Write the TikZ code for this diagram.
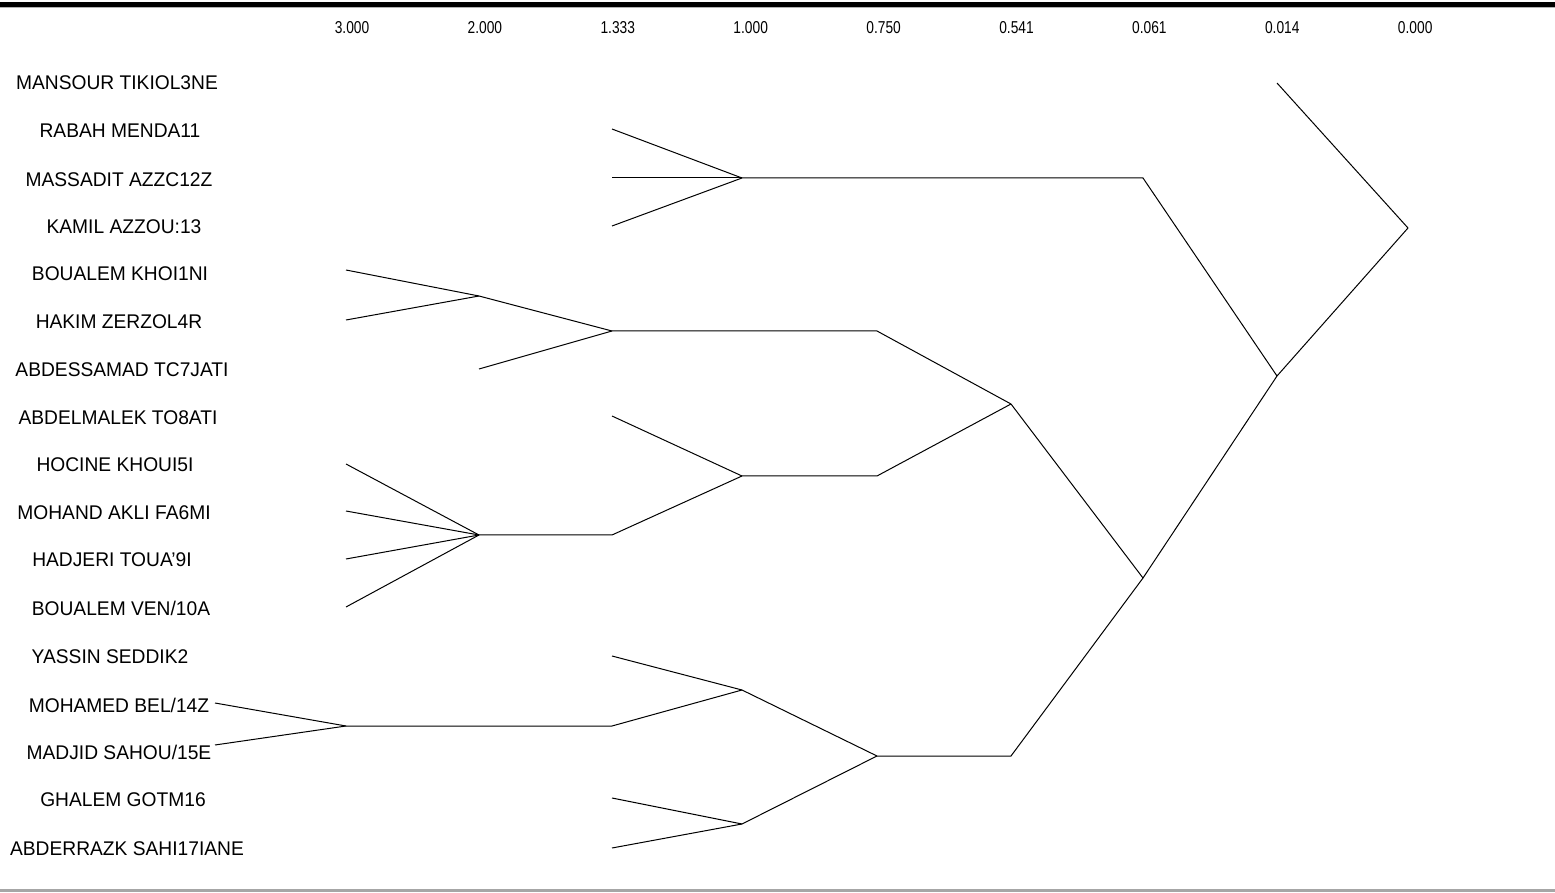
\documentclass[tikz,border=0pt]{standalone}
\usepackage{fontspec}
\setmainfont{Liberation Sans}
\begin{document}
\begin{tikzpicture}[x=0.5pt,y=-0.5pt,
  lbl/.style={font=\fontsize{9.9}{11}\selectfont, inner sep=0pt, anchor=center, xscale=0.97},
  ax/.style={font=\fontsize{8.6}{10}\selectfont, inner sep=0pt, anchor=center, xscale=0.8},
  br/.style={line width=0.5pt, black}]
\useasboundingbox (0,0) rectangle (1555,893);
% frame lines
\draw[line width=2.2pt, black] (0,4.5) -- (1555,4.5);
\draw[line width=0.6pt, gray!60] (0,7.5) -- (1555,7.5);
\draw[line width=1.4pt, gray!70] (0,890.5) -- (1555,890.5);
% axis labels
\foreach \v [count=\i from 0] in {3.000,2.000,1.333,1.000,0.750,0.541,0.061,0.014,0.000}
  \node[ax] (ax\i) at (352+132.9*\i,28) {\v};
% leaf labels
\node[lbl] (n1) at (117,83) {MANSOUR TIKIOL3NE};
\node[lbl] (n2) at (120,131) {RABAH MENDA11};
\node[lbl] (n3) at (119,180) {MASSADIT AZZC12Z};
\node[lbl] (n4) at (124,227) {KAMIL AZZOU:13};
\node[lbl] (n5) at (120,274) {BOUALEM KHOI1NI};
\node[lbl] (n6) at (119,322) {HAKIM ZERZOL4R};
\node[lbl] (n7) at (122,370) {ABDESSAMAD TC7JATI};
\node[lbl] (n8) at (118,418) {ABDELMALEK TO8ATI};
\node[lbl] (n9) at (115,465) {HOCINE KHOUI5I};
\node[lbl] (n10) at (114,513) {MOHAND AKLI FA6MI};
\node[lbl] (n11) at (112,560) {HADJERI TOUA'9I};
\node[lbl] (n12) at (121,608) {BOUALEM VEN/10A};
\node[lbl] (n13) at (110,657) {YASSIN SEDDIK2};
\node[lbl] (n14) at (119,705) {MOHAMED BEL/14Z};
\node[lbl] (n15) at (119,752) {MADJID SAHOU/15E};
\node[lbl] (n16) at (123,800) {GHALEM GOTM16};
\node[lbl] (n17) at (127,849) {ABDERRAZK SAHI17IANE};
% leaf ends
\coordinate (l1) at (1277,83);
\coordinate (l2) at (612,129);
\coordinate (l3) at (612,178);
\coordinate (l4) at (612,226);
\coordinate (l5) at (346,270);
\coordinate (l6) at (346,320);
\coordinate (l7) at (479,369);
\coordinate (l8) at (612,416);
\coordinate (l9) at (346,464);
\coordinate (l10) at (346,511);
\coordinate (l11) at (346,559);
\coordinate (l12) at (346,607);
\coordinate (l13) at (612,656);
\coordinate (l14) at (215,703);
\coordinate (l15) at (215,745);
\coordinate (l16) at (612,798);
\coordinate (l17) at (612,848);
% junctions
\coordinate (jA) at (742,178);
\coordinate (jA2) at (1143,178);
\coordinate (jB1) at (479,296);
\coordinate (jB) at (612,331);
\coordinate (jB2) at (877,331);
\coordinate (jC1) at (479,535);
\coordinate (jC1b) at (612,535);
\coordinate (jC) at (742,476);
\coordinate (jC2) at (877,476);
\coordinate (jBC) at (1011,404);
\coordinate (jD1) at (346,726);
\coordinate (jD1b) at (612,726);
\coordinate (jD2) at (742,690);
\coordinate (jD3) at (742,824);
\coordinate (jD) at (877,756);
\coordinate (jD4) at (1011,756);
\coordinate (jBCD) at (1143,578);
\coordinate (jABCD) at (1277,376);
\coordinate (root) at (1408,228);
% branches
\draw[br] (l2) -- (jA); \draw[br] (l3) -- (jA); \draw[br] (l4) -- (jA);
\draw[br] (jA) -- (jA2) -- (jABCD);
\draw[br] (l5) -- (jB1); \draw[br] (l6) -- (jB1);
\draw[br] (jB1) -- (jB); \draw[br] (l7) -- (jB);
\draw[br] (jB) -- (jB2) -- (jBC);
\draw[br] (l9) -- (jC1); \draw[br] (l10) -- (jC1); \draw[br] (l11) -- (jC1); \draw[br] (l12) -- (jC1);
\draw[br] (jC1) -- (jC1b) -- (jC);
\draw[br] (l8) -- (jC);
\draw[br] (jC) -- (jC2) -- (jBC);
\draw[br] (jBC) -- (jBCD);
\draw[br] (l14) -- (jD1); \draw[br] (l15) -- (jD1);
\draw[br] (jD1) -- (jD1b) -- (jD2);
\draw[br] (l13) -- (jD2);
\draw[br] (l16) -- (jD3); \draw[br] (l17) -- (jD3);
\draw[br] (jD2) -- (jD); \draw[br] (jD3) -- (jD);
\draw[br] (jD) -- (jD4) -- (jBCD);
\draw[br] (jBCD) -- (jABCD);
\draw[br] (jABCD) -- (root);
\draw[br] (l1) -- (root);
\end{tikzpicture}
\end{document}
